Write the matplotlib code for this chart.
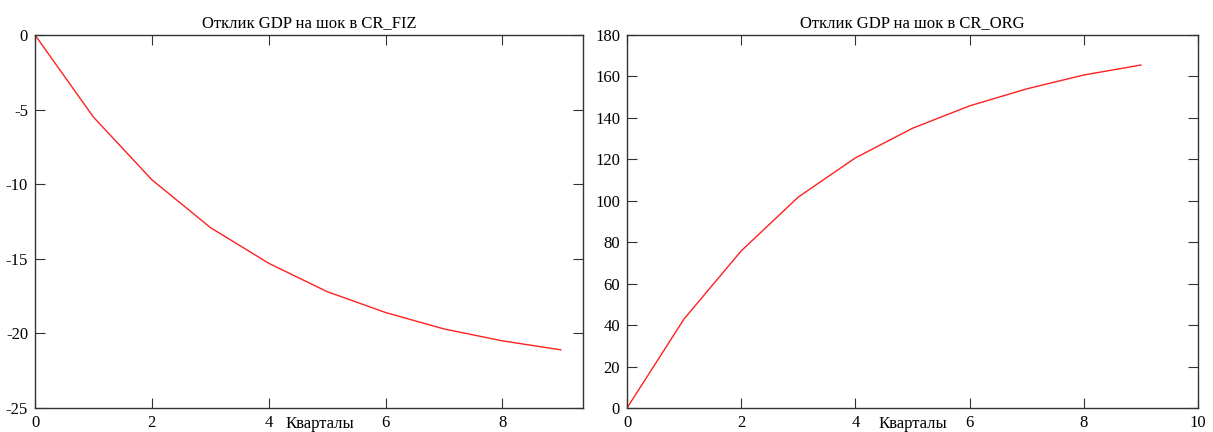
import matplotlib
matplotlib.use("Agg")
import matplotlib.pyplot as plt

# Quarters and impulse responses
quarters = [0, 1, 2, 3, 4, 5, 6, 7, 8, 9]
resp_fiz = [0, -5.5, -9.7, -12.9, -15.3, -17.2, -18.6, -19.7, -20.5, -21.1]
resp_org = [0, 43.0, 75.8, 101.8, 120.7, 135.0, 145.8, 154.0, 160.7, 165.5]

titles = ["Отклик GDP на шок в CR_FIZ", "Отклик GDP на шок в CR_ORG"]
xlabel = "Кварталы"

plt.rcParams['font.family'] = ['Liberation Serif', 'DejaVu Serif']
plt.rcParams['font.size'] = 12
plt.rcParams['axes.unicode_minus'] = False

W, H = 1213, 432
fig = plt.figure(figsize=(W / 100, H / 100), dpi=100)

# axes boxes in pixels: left, right, top, bottom
boxes = [(35, 583, 35, 408), (627, 1198, 35, 408)]
axes = []
for (l, r, t, b) in boxes:
    ax = fig.add_axes([l / W, 1 - b / H, (r - l) / W, (b - t) / H])
    axes.append(ax)

# left panel
ax = axes[0]
ax.plot(quarters, resp_fiz, color='#ff2020', lw=1.0)
ax.set_xlim(0, 9.38)
ax.set_ylim(-25, 0)
ax.set_xticks([0, 2, 4, 6, 8])
ax.set_yticks([-25, -20, -15, -10, -5, 0])
label_x = [0.52, 0.5]

# right panel
ax = axes[1]
ax.plot(quarters, resp_org, color='#ff2020', lw=1.0)
ax.set_xlim(0, 10)
ax.set_ylim(0, 180)
ax.set_xticks([0, 2, 4, 6, 8, 10])
ax.set_yticks(range(0, 181, 20))

for i, ax in enumerate(axes):
    ax.tick_params(direction='in', length=7, width=0.8, top=True, right=True,
                   labelsize=12, pad=5, color='#333333')
    for s in ax.spines.values():
        s.set_color('#333333')
        s.set_linewidth(1.0)
    ax.set_title(titles[i], fontsize=12, pad=6)
    ax.text(label_x[i], -0.044, xlabel, transform=ax.transAxes,
            ha='center', va='center', fontsize=12)

fig.savefig("out.png", dpi=100)
